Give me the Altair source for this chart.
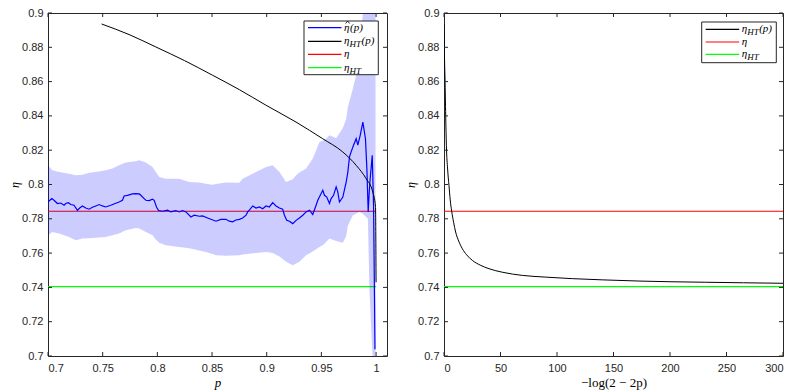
import altair as alt
import pandas as pd

# ---------------- data ----------------
blue_p = [0.7000, 0.7034, 0.7055, 0.7086, 0.7116, 0.7147, 0.7162, 0.7186, 0.7208, 0.7238,
          0.7269, 0.7290, 0.7315, 0.7345, 0.7376, 0.7406, 0.7437, 0.7467, 0.7498, 0.7528,
          0.7574, 0.7620, 0.7650, 0.7681, 0.7696, 0.7727, 0.7772, 0.7803, 0.7834, 0.7849,
          0.7879, 0.7895, 0.7925, 0.7956, 0.7971, 0.7992, 0.8011, 0.8047, 0.8093, 0.8124,
          0.8169, 0.8200, 0.8230, 0.8261, 0.8307, 0.8337, 0.8383, 0.8414, 0.8459, 0.8490,
          0.8536, 0.8581, 0.8627, 0.8658, 0.8688, 0.8719, 0.8750, 0.8780, 0.8811, 0.8826,
          0.8841, 0.8872, 0.8902, 0.8933, 0.8963, 0.8994, 0.9024, 0.9055, 0.9085, 0.9116,
          0.9146, 0.9162, 0.9183, 0.9208, 0.9238, 0.9269, 0.9299, 0.9330, 0.9360, 0.9391,
          0.9421, 0.9446, 0.9467, 0.9498, 0.9513, 0.9528, 0.9549, 0.9574, 0.9589, 0.9611,
          0.9635, 0.9650, 0.9665, 0.9696, 0.9727, 0.9742, 0.9757, 0.9772, 0.9794, 0.9818,
          0.9833, 0.9855, 0.9879, 0.9890, 0.9903, 0.9916, 0.9928, 0.9937, 0.9946, 0.9965,
          0.9977, 0.9986, 0.9990]
blue_eta = [0.7898, 0.7918, 0.7908, 0.7889, 0.7892, 0.7879, 0.7889, 0.7894, 0.7883, 0.7879,
            0.7850, 0.7863, 0.7875, 0.7863, 0.7856, 0.7867, 0.7875, 0.7883, 0.7875, 0.7869,
            0.7879, 0.7891, 0.7898, 0.7908, 0.7933, 0.7937, 0.7945, 0.7947, 0.7945, 0.7937,
            0.7918, 0.7908, 0.7906, 0.7914, 0.7908, 0.7869, 0.7848, 0.7844, 0.7850, 0.7840,
            0.7848, 0.7840, 0.7848, 0.7840, 0.7811, 0.7821, 0.7815, 0.7817, 0.7805, 0.7797,
            0.7786, 0.7797, 0.7797, 0.7786, 0.7782, 0.7793, 0.7797, 0.7805, 0.7821, 0.7840,
            0.7850, 0.7875, 0.7863, 0.7869, 0.7859, 0.7875, 0.7869, 0.7894, 0.7875, 0.7863,
            0.7856, 0.7821, 0.7791, 0.7786, 0.7772, 0.7791, 0.7805, 0.7821, 0.7840, 0.7850,
            0.7825, 0.7869, 0.7908, 0.7947, 0.7966, 0.7937, 0.7927, 0.7889, 0.7918, 0.7937,
            0.7986, 0.7957, 0.7898, 0.7927, 0.8015, 0.8073, 0.8161, 0.8190, 0.8229, 0.8267,
            0.8229, 0.8287, 0.8364, 0.8320, 0.8267, 0.8092, 0.7840, 0.7950, 0.8034, 0.8170,
            0.7879, 0.7315, 0.7040]

band_p = [0.7000, 0.7040, 0.7101, 0.7192, 0.7253, 0.7315, 0.7376, 0.7437, 0.7528, 0.7589,
          0.7650, 0.7711, 0.7803, 0.7834, 0.7895, 0.7956, 0.7986, 0.8017, 0.8078, 0.8200,
          0.8291, 0.8383, 0.8444, 0.8505, 0.8536, 0.8627, 0.8749, 0.8780, 0.8902, 0.8994,
          0.9055, 0.9116, 0.9177, 0.9238, 0.9269, 0.9299, 0.9360, 0.9421, 0.9458, 0.9482,
          0.9513, 0.9543, 0.9574, 0.9635, 0.9696, 0.9727, 0.9742, 0.9788, 0.9848, 0.9879,
          0.9925, 0.9940, 0.9975, 0.9995]
band_lo = [0.7704, 0.7723, 0.7714, 0.7694, 0.7675, 0.7685, 0.7687, 0.7690, 0.7694, 0.7704,
           0.7714, 0.7733, 0.7747, 0.7743, 0.7723, 0.7704, 0.7680, 0.7660, 0.7646, 0.7636,
           0.7628, 0.7615, 0.7607, 0.7595, 0.7587, 0.7584, 0.7587, 0.7592, 0.7600, 0.7607,
           0.7600, 0.7580, 0.7549, 0.7529, 0.7540, 0.7549, 0.7587, 0.7610, 0.7626, 0.7635,
           0.7646, 0.7665, 0.7685, 0.7670, 0.7660, 0.7700, 0.7760, 0.7820, 0.7840, 0.7830,
           0.7800, 0.7374, 0.6900, 0.6900]
band_hi = [0.8112, 0.8083, 0.8073, 0.8063, 0.8054, 0.8057, 0.8069, 0.8073, 0.8083, 0.8093,
           0.8112, 0.8128, 0.8135, 0.8141, 0.8128, 0.8102, 0.8073, 0.8044, 0.8034, 0.8034,
           0.8015, 0.8011, 0.8005, 0.7999, 0.8003, 0.8011, 0.8010, 0.8034, 0.8073, 0.8102,
           0.8112, 0.8073, 0.8015, 0.8030, 0.8054, 0.8070, 0.8093, 0.8151, 0.8209, 0.8248,
           0.8255, 0.8267, 0.8287, 0.8270, 0.8330, 0.8384, 0.8450, 0.8560, 0.8714, 0.9000,
           0.9300, 0.9500, 0.9500, 0.9500]

ht_p = [0.749, 0.775, 0.7986, 0.825, 0.8505, 0.875, 0.8994, 0.9268, 0.9512, 0.9695,
        0.9818, 0.9909, 0.997, 0.9995, 1.0]
ht_eta = [0.8936, 0.8872, 0.8802, 0.8722, 0.8637, 0.8553, 0.8462, 0.8364, 0.8267, 0.8190,
          0.8112, 0.8034, 0.7956, 0.7870, 0.7430]

ht_x = [0, 0.5, 0.9, 1.5, 2.1, 3.2, 4.4, 5.5, 6.8, 8.5, 10.3, 13, 16.2, 20, 25, 32, 39.8,
        52, 69.3, 90, 113.5, 140, 172.6, 200, 231.6, 265, 300]
ht_x_eta = [0.8936, 0.8720, 0.8617, 0.8400, 0.8229, 0.8090, 0.7995, 0.7910, 0.7844, 0.7780,
            0.7723, 0.7670, 0.7626, 0.7590, 0.7558, 0.7530, 0.7509, 0.7488, 0.7470, 0.7460,
            0.7451, 0.7444, 0.7437, 0.7433, 0.7430, 0.7427, 0.7424]

eta_true = 0.7844
eta_ht = 0.7404

left_xticks = [0.7, 0.75, 0.8, 0.85, 0.9, 0.95, 1.0]
right_xticks = [0, 50, 100, 150, 200, 250, 300]
yticks = [0.7, 0.72, 0.74, 0.76, 0.78, 0.8, 0.82, 0.84, 0.86, 0.88, 0.9]
left_xrange = [0.7, 1.01]
left_line_end = 1.0
right_xrange = [0, 300]
yrange = [0.7, 0.9]

# ---------------- styling ----------------
W, H = 339, 343
AX = "#262626"
SERIF = "Liberation Serif"

one = pd.DataFrame({"a": [0]})


def panel(xrange, xticks, xfmt, xtitle, xtitle_style, layers_fn, legend_fn):
    xs = alt.Scale(domain=xrange, nice=False, zero=False)
    ys = alt.Scale(domain=yrange, nice=False, zero=False)
    xax = alt.Axis(values=xticks, format=xfmt, title=xtitle, titleFontStyle=xtitle_style)
    yax = alt.Axis(values=yticks, format=".2~f", title="η")

    def X(f):
        return alt.X(f, type="quantitative", scale=xs, axis=xax)

    def Y(f):
        return alt.Y(f, type="quantitative", scale=ys, axis=yax)

    layers = layers_fn(X, Y)

    tx = pd.DataFrame({"t": xticks})
    ty = pd.DataFrame({"t": yticks})
    ticks = [
        alt.Chart(tx).mark_rule(color=AX, strokeWidth=1).encode(x=X("t"), y=alt.value(H), y2=alt.value(H - 4)),
        alt.Chart(tx).mark_rule(color=AX, strokeWidth=1).encode(x=X("t"), y=alt.value(0), y2=alt.value(4)),
        alt.Chart(ty).mark_rule(color=AX, strokeWidth=1).encode(y=Y("t"), x=alt.value(0), x2=alt.value(4)),
        alt.Chart(ty).mark_rule(color=AX, strokeWidth=1).encode(y=Y("t"), x=alt.value(W), x2=alt.value(W - 4)),
    ]
    return alt.layer(*layers, *ticks, *legend_fn()).properties(width=W, height=H)


def legend(box, entries):
    x0, x1, y0, y1 = box
    out = [alt.Chart(one).mark_rect(fill="white", stroke=AX, strokeWidth=1).encode(
        x=alt.value(x0), x2=alt.value(x1), y=alt.value(y0), y2=alt.value(y1))]
    lx0, lx1, tx = x0 + 4, x0 + 37.5, x0 + 40
    for y, color, parts, hat in entries:
        out.append(alt.Chart(one).mark_rule(color=color, strokeWidth=1.2).encode(
            x=alt.value(lx0), x2=alt.value(lx1), y=alt.value(y)))
        for dx, dy, size, txt in parts:
            out.append(alt.Chart(one).mark_text(
                text=txt, align="left", baseline="middle", font=SERIF, fontStyle="italic",
                fontSize=size, color="#000000").encode(x=alt.value(tx + dx), y=alt.value(y + dy)))
        if hat:
            # circumflex accent drawn as two short strokes above the eta
            out.append(alt.Chart(one).mark_rule(color="#000000", strokeWidth=0.8).encode(
                x=alt.value(tx + 1.6), x2=alt.value(tx + 3.6), y=alt.value(y - 4.2), y2=alt.value(y - 6.6)))
            out.append(alt.Chart(one).mark_rule(color="#000000", strokeWidth=0.8).encode(
                x=alt.value(tx + 3.6), x2=alt.value(tx + 5.6), y=alt.value(y - 6.6), y2=alt.value(y - 4.2)))
    return out


def eta_hat():
    return [(0, 0, 11, "η"), (6, 0, 11, "(p)")]


def eta_ht_p():
    return [(0, 0, 11, "η"), (5.5, 3, 9, "HT"), (17.5, 0, 11, "(p)")]


def eta_plain():
    return [(0, 0, 11, "η")]


def eta_ht_sub():
    return [(0, 0, 11, "η"), (5.5, 3, 9, "HT")]


def left_layers(X, Y):
    red = pd.DataFrame({"x0": [left_xrange[0]], "x1": [left_line_end], "y": [eta_true]})
    grn = pd.DataFrame({"x0": [left_xrange[0]], "x1": [left_line_end], "y": [eta_ht]})
    band = pd.DataFrame({"p": band_p, "lo": band_lo, "hi": band_hi})
    blue = pd.DataFrame({"p": blue_p, "eta": blue_eta})
    black = pd.DataFrame({"p": ht_p, "eta": ht_eta})
    return [
        alt.Chart(red).mark_rule(color="#ff0000", strokeWidth=1.2).encode(x=X("x0"), x2="x1", y=Y("y")),
        alt.Chart(grn).mark_rule(color="#00ff00", strokeWidth=1.3).encode(x=X("x0"), x2="x1", y=Y("y")),
        alt.Chart(band).mark_area(color="#0000ff", opacity=0.2, clip=True).encode(
            x=X("p"), y=Y("lo"), y2="hi"),
        alt.Chart(blue).mark_line(color="#0000ff", strokeWidth=1.2, clip=True).encode(x=X("p"), y=Y("eta")),
        alt.Chart(black).mark_line(color="#000000", strokeWidth=1, interpolate="monotone", clip=True).encode(
            x=X("p"), y=Y("eta")),
    ]


def right_layers(X, Y):
    red = pd.DataFrame({"x0": [right_xrange[0]], "x1": [right_xrange[1]], "y": [eta_true]})
    grn = pd.DataFrame({"x0": [right_xrange[0]], "x1": [right_xrange[1]], "y": [eta_ht]})
    black = pd.DataFrame({"x": ht_x, "eta": ht_x_eta})
    return [
        alt.Chart(red).mark_rule(color="#ff0000", strokeWidth=1.2).encode(x=X("x0"), x2="x1", y=Y("y")),
        alt.Chart(grn).mark_rule(color="#00ff00", strokeWidth=1.3).encode(x=X("x0"), x2="x1", y=Y("y")),
        alt.Chart(black).mark_line(color="#000000", strokeWidth=1, interpolate="monotone", clip=True).encode(
            x=X("x"), y=Y("eta")),
    ]


left = panel(left_xrange, left_xticks, ".2~f", "p", "italic", left_layers,
             lambda: legend((256, 330.3, 8, 61.7), [
                 (14.7, "#0000ff", eta_hat(), True),
                 (28.3, "#000000", eta_ht_p(), False),
                 (41.3, "#ff0000", eta_plain(), False),
                 (54.7, "#00ff00", eta_ht_sub(), False),
             ]))

right = panel(right_xrange, right_xticks, "d", "−log(2 − 2p)", "normal", right_layers,
              lambda: legend((257.7, 332.3, 9, 49.7), [
                  (16.3, "#000000", eta_ht_p(), False),
                  (29, "#ff0000", eta_plain(), False),
                  (41.3, "#00ff00", eta_ht_sub(), False),
              ]))

chart = alt.hconcat(left, right, spacing=16).properties(
    padding={"left": 0, "top": -2, "right": -1, "bottom": 0}
).configure_view(
    stroke=AX, strokeWidth=1
).configure_axis(
    domain=False, ticks=False, grid=False,
    labelFont="Liberation Sans", labelFontSize=11, labelColor=AX,
    titleFont=SERIF, titleFontSize=13, titleFontWeight="normal", titleColor="#000000",
    titleFontStyle="italic"
).configure_axisY(titlePadding=0, titleFontSize=12, labelPadding=5
).configure_axisX(titlePadding=3, labelPadding=6)

chart.save("out.html", embed_options={"renderer": "svg", "actions": False})
